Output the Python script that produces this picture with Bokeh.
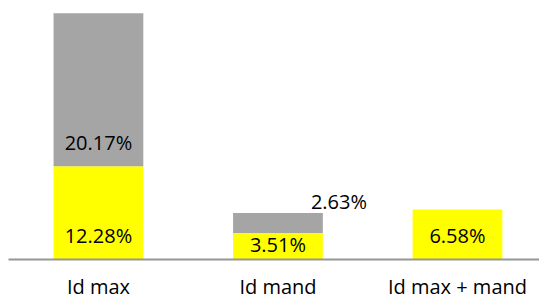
from bokeh.plotting import figure
from bokeh.models import ColumnDataSource, Range1d, FixedTicker
from bokeh.core.properties import value
from bokeh.embed import file_html
from bokeh.resources import INLINE

categories = ["Id max", "Id mand", "Id max + mand"]
yellow_vals = [12.28, 3.51, 6.58]
gray_vals = [20.17, 2.63, 0.0]

FONT = "Open Sans"
FS = "20px"

xs = list(range(len(categories)))
tops_y = yellow_vals
tops_g = [a + b for a, b in zip(yellow_vals, gray_vals)]

p = figure(width=539, height=302, output_backend="svg", toolbar_location=None,
           x_range=Range1d(-0.501, 2.457), y_range=Range1d(0, 33.09),
           min_border_left=8, min_border_right=0, min_border_top=8,
           min_border_bottom=43)
p.outline_line_color = None
p.xgrid.visible = False
p.ygrid.visible = False
p.yaxis.visible = False

src = ColumnDataSource(dict(x=xs, yb=[0] * 3, yt=tops_y, gb=tops_y, gt=tops_g))
p.vbar(x="x", width=0.50, bottom="yb", top="yt", source=src,
       fill_color="#FFFF00", line_color=None)
p.vbar(x="x", width=0.50, bottom="gb", top="gt", source=src,
       fill_color="#A5A5A5", line_color=None)

# labels
lx, ly, lt = [], [], []
ox, oy, ot = [], [], []
for i, (yv, gv) in enumerate(zip(yellow_vals, gray_vals)):
    lx.append(i); ly.append(min(3.2, yv / 2 + 0.2)); lt.append(f"{yv:.2f}%")
    if gv > 0:
        if gv >= 3:
            lx.append(i); ly.append(yv + min(3.2, gv / 2 + 0.2)); lt.append(f"{gv:.2f}%")
        else:
            ox.append(i); oy.append(yv + gv); ot.append(f"{gv:.2f}%")

p.text(x=lx, y=ly, text=lt, text_align="center", text_baseline="middle",
       text_font=value(FONT), text_font_size=FS, text_color="#000000")
p.text(x=ox, y=oy, text=ot, text_align="center", text_baseline="middle",
       x_offset=61, y_offset=-11,
       text_font=value(FONT), text_font_size=FS, text_color="#000000")

ax = p.xaxis[0]
ax.ticker = FixedTicker(ticks=xs)
ax.major_label_overrides = {i: c for i, c in enumerate(categories)}
ax.major_tick_line_color = None
ax.minor_tick_line_color = None
ax.major_tick_out = 0
ax.major_tick_in = 0
ax.axis_line_color = "#969696"
ax.axis_line_width = 2
ax.major_label_standoff = 13
ax.major_label_text_font = FONT
ax.major_label_text_font_size = FS
ax.major_label_text_line_height = 0.9
ax.major_label_text_color = "#000000"

open("out.html", "w").write(file_html(p, INLINE))
